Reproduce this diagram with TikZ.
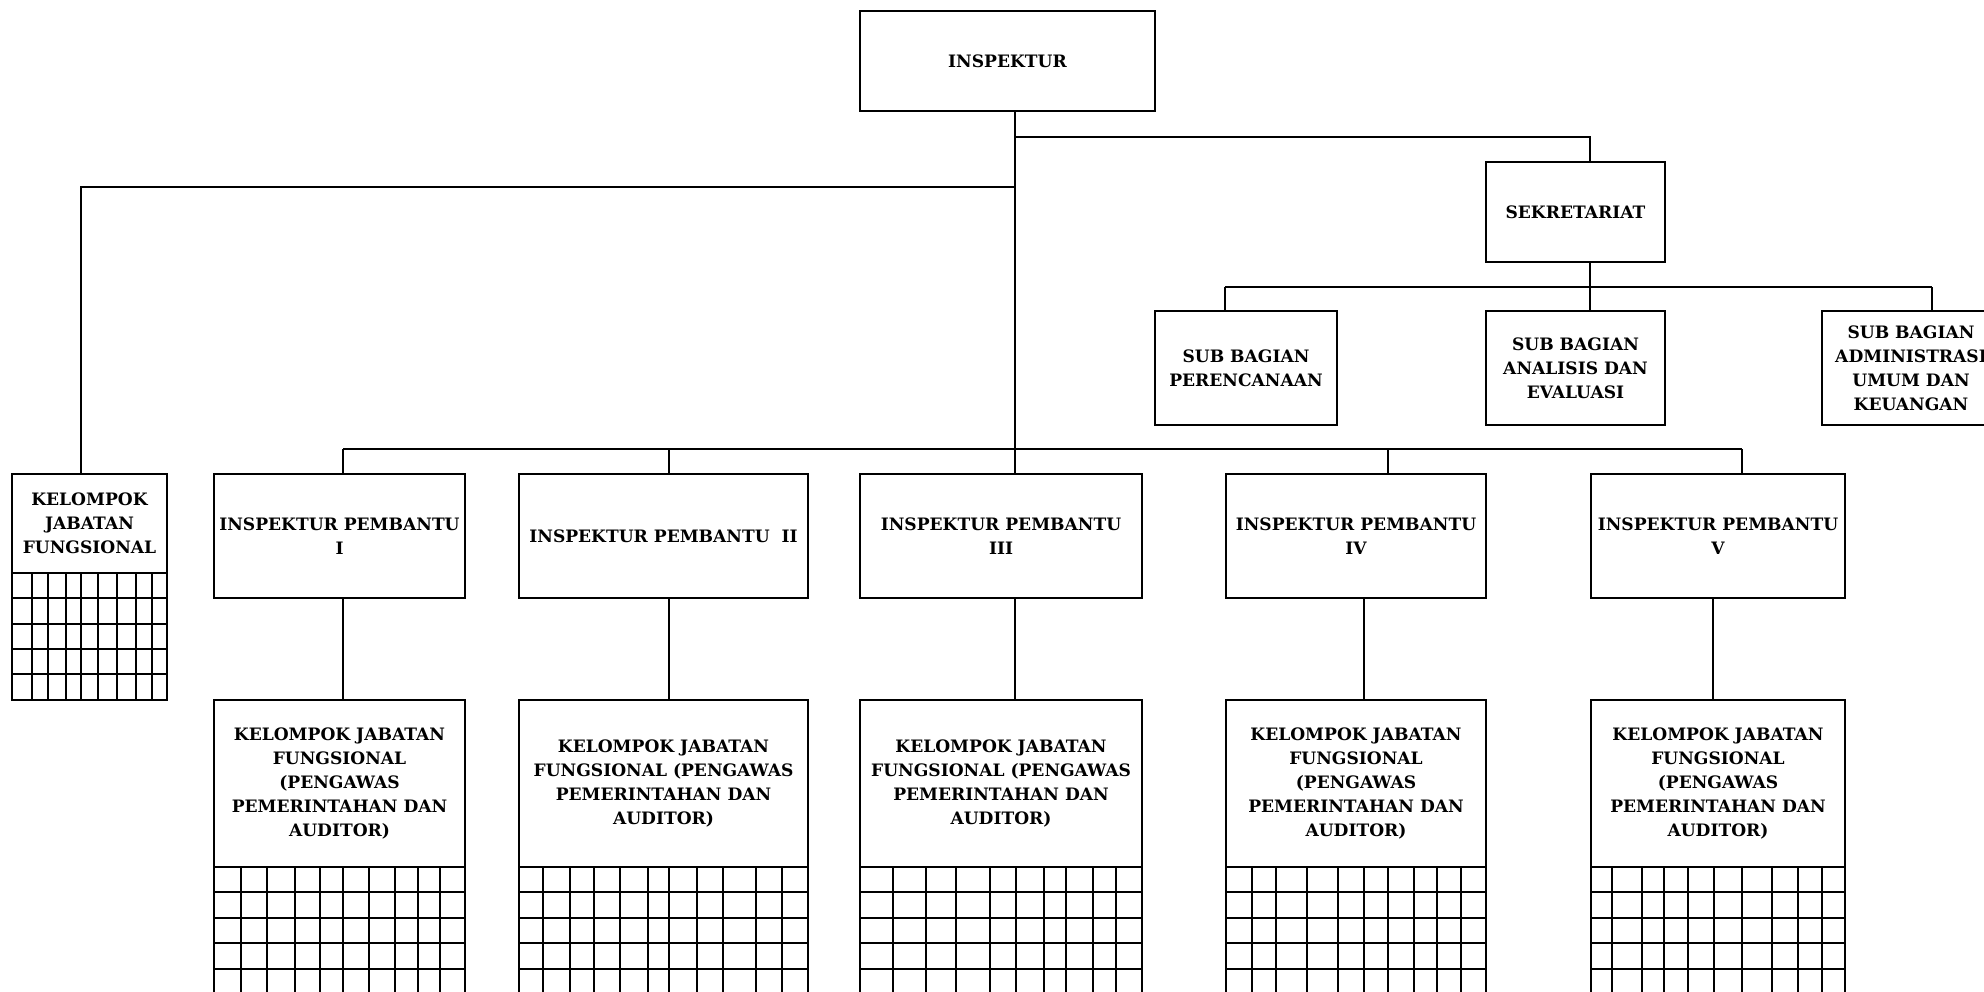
\documentclass[tikz,border=0pt]{standalone}
\usepackage{fontspec}
\setmainfont{DejaVu Serif}
\begin{document}
\begin{tikzpicture}[x=1pt,y=-1pt,
  box/.style={draw, line width=2.6pt, rectangle, inner sep=0pt, outer sep=0pt, align=center,
    font=\bfseries\fontsize{17.1}{24}\selectfont},
  conn/.style={line width=2.2pt},
  gridline/.style={line width=2.6pt}]
\useasboundingbox (0,0) rectangle (1984,991);
\clip (0,0) rectangle (1984,991);
\newcommand\bx[6]{\node[box, minimum width={#4-#2}, minimum height={#5-#3}] (#1) at ({(#2+#4)/2},{(#3+#5)/2}) {#6};}
% boxes
\bx{insp}{860}{11}{1155}{111}{INSPEKTUR}
\bx{sek}{1486}{162}{1665}{262}{SEKRETARIAT}
\bx{sb1}{1155}{311}{1337}{425}{SUB BAGIAN\\PERENCANAAN}
\bx{sb2}{1486}{311}{1665}{425}{SUB BAGIAN\\ANALISIS DAN\\EVALUASI}
\bx{sb3}{1822}{311}{2000}{425}{SUB BAGIAN\\ADMINISTRASI\\UMUM DAN\\KEUANGAN}
\bx{kjf0}{12}{474}{167}{573}{KELOMPOK\\JABATAN\\FUNGSIONAL}
\bx{ip1}{214}{474}{465}{598}{INSPEKTUR PEMBANTU\\I}
\bx{ip2}{519}{474}{808}{598}{INSPEKTUR PEMBANTU\ \ II}
\bx{ip3}{860}{474}{1142}{598}{INSPEKTUR PEMBANTU\\III}
\bx{ip4}{1226}{474}{1486}{598}{INSPEKTUR PEMBANTU\\IV}
\bx{ip5}{1591}{474}{1845}{598}{INSPEKTUR PEMBANTU\\V}
\bx{kjf1}{214}{700}{465}{867}{KELOMPOK JABATAN\\FUNGSIONAL\\(PENGAWAS\\PEMERINTAHAN DAN\\AUDITOR)}
\bx{kjf2}{519}{700}{808}{867}{KELOMPOK JABATAN\\FUNGSIONAL (PENGAWAS\\PEMERINTAHAN DAN\\AUDITOR)}
\bx{kjf3}{860}{700}{1142}{867}{KELOMPOK JABATAN\\FUNGSIONAL (PENGAWAS\\PEMERINTAHAN DAN\\AUDITOR)}
\bx{kjf4}{1226}{700}{1486}{867}{KELOMPOK JABATAN\\FUNGSIONAL\\(PENGAWAS\\PEMERINTAHAN DAN\\AUDITOR)}
\bx{kjf5}{1591}{700}{1845}{867}{KELOMPOK JABATAN\\FUNGSIONAL\\(PENGAWAS\\PEMERINTAHAN DAN\\AUDITOR)}
% grids
\draw[gridline] (kjf0.south west) rectangle (167,700);
\foreach \yy in {598,624,649,674} \draw[gridline] (12,\yy) -- (167,\yy);
\foreach \xx in {32,48,66,81,98,117,136,152} \draw[gridline] (\xx,573) -- (\xx,700);
\foreach \xa/\xb/\cols in {214/465/{241,267,295,320,343,369,395,418,440},
  519/808/{543,570,594,620,648,669,697,723,756,782},
  860/1142/{893,926,956,990,1016,1044,1066,1093,1116},
  1226/1486/{1252,1276,1307,1338,1364,1388,1414,1437,1461},
  1591/1845/{1612,1642,1664,1688,1714,1742,1772,1798,1822}}{
  \draw[gridline] (\xa,867) -- (\xa,1000) (\xb,867) -- (\xb,1000);
  \foreach \yy in {892,918,943,969} \draw[gridline] (\xa,\yy) -- (\xb,\yy);
  \foreach \xx in \cols \draw[gridline] (\xx,867) -- (\xx,1000);
}
% connector coordinates
\coordinate (tA) at (1015,137);
\coordinate (tB) at (1015,187);
\coordinate (bus) at (1015,449);
\coordinate (sekx) at (1590,137);
\coordinate (kjx) at (81,187);
\coordinate (s1) at (1225,287);
\coordinate (s2) at (1590,287);
\coordinate (s3) at (1932,287);
\coordinate (b1) at (343,449);
\coordinate (b2) at (669,449);
\coordinate (b3) at (1015,449);
\coordinate (b4) at (1388,449);
\coordinate (b5) at (1742,449);
\coordinate (d1) at (343,600);
\coordinate (d2) at (669,600);
\coordinate (d3) at (1015,600);
\coordinate (d4) at (1364,600);
\coordinate (d5) at (1713,600);
% connectors
\draw[conn] (insp.south -| bus) -- (bus);
\draw[conn] (tA) -- (sekx) -- (sekx |- sek.north);
\draw[conn] (tB) -- (kjx) -- (kjx |- kjf0.north);
\draw[conn] (sek.south -| s2) -- (s2);
\draw[conn] (s1) -- (s3);
\draw[conn] (s1) -- (s1 |- sb1.north);
\draw[conn] (s2) -- (s2 |- sb2.north);
\draw[conn] (s3) -- (s3 |- sb3.north);
\draw[conn] (b1) -- (b5);
\foreach \i in {1,...,5} {
  \draw[conn] (b\i) -- (b\i |- ip\i.north);
  \draw[conn] (d\i |- ip\i.south) -- (d\i |- kjf\i.north);
}
\end{tikzpicture}
\end{document}
